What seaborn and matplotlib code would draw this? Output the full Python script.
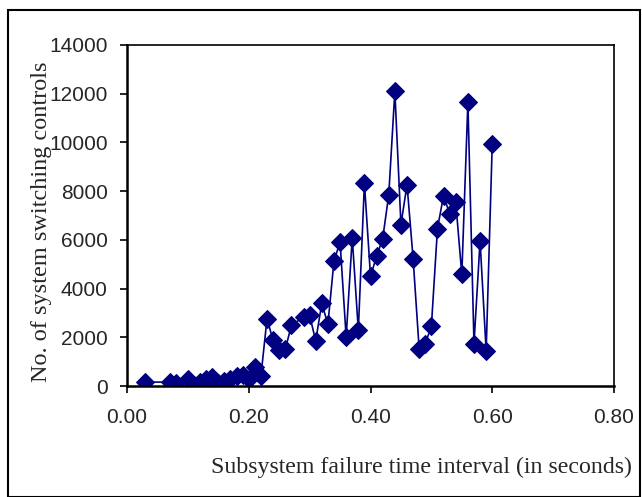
import numpy as np
import pandas as pd
import seaborn as sns
import matplotlib.pyplot as plt
from matplotlib.patches import Rectangle

interval = [0.03, 0.07, 0.08, 0.10, 0.11, 0.12, 0.13, 0.14, 0.15, 0.16,
            0.17, 0.18, 0.19, 0.20, 0.21, 0.22, 0.23, 0.24, 0.25, 0.26,
            0.27, 0.29, 0.30, 0.31, 0.32, 0.33, 0.34, 0.35, 0.36, 0.37,
            0.38, 0.39, 0.40, 0.41, 0.42, 0.43, 0.44, 0.45, 0.46, 0.47,
            0.48, 0.49, 0.50, 0.51, 0.52, 0.53, 0.54, 0.55, 0.56, 0.57,
            0.58, 0.59, 0.60]
controls = [160, 160, 120, 270, 50, 160, 270, 370, 120, 190,
            300, 400, 440, 300, 780, 410, 2760, 1870, 1460, 1500,
            2490, 2830, 2900, 1850, 3400, 2530, 5130, 5910, 2010, 6090,
            2280, 8330, 4510, 5320, 6050, 7850, 12100, 6630, 8260, 5230,
            1500, 1740, 2450, 6460, 7820, 7070, 7550, 4580, 11650, 1740,
            5950, 1440, 9950]
xticks = [0.0, 0.2, 0.4, 0.6, 0.8]
yticks = [0, 2000, 4000, 6000, 8000, 10000, 12000, 14000]

F = pd.DataFrame({'x': interval, 'y': controls})

sns.set_style('white')
fig = plt.figure(figsize=(6.42, 4.97), dpi=100)
ax = fig.add_axes([127/642, 1 - 386/497, (614-127)/642, (386-45)/497])

sns.lineplot(x='x', y='y', data=F, ax=ax, color='#000080', lw=1.2,
             marker='D', markersize=9, markeredgecolor='#000080')

ax.set_xlim(0, 0.8)
ax.set_ylim(0, 14000)
ax.set_xticks(xticks)
ax.set_xticklabels(['%.2f' % v for v in xticks])
ax.set_yticks(yticks)
ax.set_xlabel('')
ax.set_ylabel('')
for s in ax.spines.values():
    s.set_color('black')
    s.set_linewidth(1.2)
ax.spines['left'].set_linewidth(1.8)
ax.spines['bottom'].set_linewidth(1.8)
ax.tick_params(axis='both', direction='out', length=5, width=1.2, color='black',
               labelsize=15, bottom=True, left=True)
ax.tick_params(axis='x', pad=11)
ax.tick_params(axis='y', pad=9)
for t in ax.get_xticklabels() + ax.get_yticklabels():
    t.set_fontfamily('Liberation Sans')

fig.text(42/642, 1 - 222/497, 'No. of system switching controls', rotation=90,
         ha='center', va='center', fontsize=17.5, family='Liberation Serif')
fig.text(632/642, 1 - 467/497, 'Subsystem failure time interval (in seconds)',
         ha='right', va='center', fontsize=17.2, family='Liberation Serif')

fig.patches.append(Rectangle((8/642, 0.0), 632/642, 1 - 10/497, transform=fig.transFigure,
                             fill=False, edgecolor='black', lw=1.5))

fig.savefig('out.png', dpi=100)
